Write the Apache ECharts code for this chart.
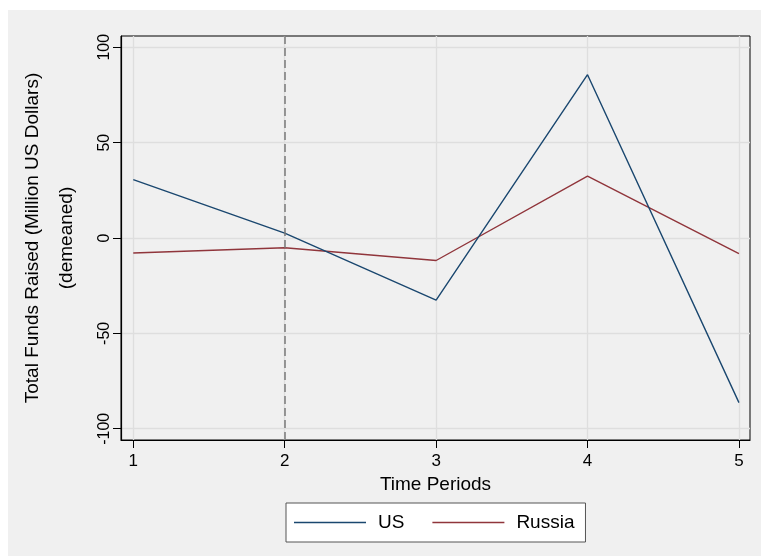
<!DOCTYPE html>
<html>
<head>
<meta charset="utf-8">
<script src="https://cdn.jsdelivr.net/npm/echarts@6/dist/echarts.min.js"></script>
<style>
  html, body { margin: 0; padding: 0; background: #ffffff; }
  #chart { position: absolute; left: 8px; top: 10px; width: 753px; height: 546px; }
</style>
</head>
<body>
<div id="chart"></div>
<script>
// Time periods and demeaned fundraising totals (million US dollars)
const periods = [1, 2, 3, 4, 5];
const usValues = [30.6, 2.6, -32.6, 85.6, -86.3];
const russiaValues = [-7.9, -5.1, -11.8, 32.4, -8.2];
const yTicks = [-100, -50, 0, 50, 100];
const treatmentPeriod = 2;

const FONT = '"Liberation Sans", Arial, Helvetica, sans-serif';

const chart = echarts.init(document.getElementById('chart'));

chart.setOption({
  backgroundColor: '#f0f0f0',
  animation: false,
  textStyle: { fontFamily: FONT, color: '#000' },
  grid: {
    left: 113, top: 26, width: 629, height: 404,
    show: true, borderColor: '#000', borderWidth: 1, backgroundColor: 'transparent'
  },
  legend: {
    left: 278, top: 493,
    backgroundColor: '#ffffff',
    borderColor: '#555', borderWidth: 1,
    padding: [10, 11, 10, 8],
    itemWidth: 72, itemHeight: 1.6, itemGap: 28,
    textStyle: { fontSize: 19, fontFamily: FONT, color: '#000', padding: [0, 0, 0, 7] },
    data: [
      { name: 'US', icon: 'rect' },
      { name: 'Russia', icon: 'rect' }
    ]
  },
  xAxis: {
    type: 'value',
    min: 0.919, max: 5.073,
    name: 'Time Periods',
    nameLocation: 'middle',
    nameGap: 32,
    nameTextStyle: { fontSize: 19, fontFamily: FONT, color: '#000' },
    axisLine: { show: true, onZero: false, lineStyle: { color: '#000', width: 1.2 } },
    axisTick: { show: true, length: 8, customValues: periods, lineStyle: { color: '#000', width: 1 } },
    axisLabel: { customValues: periods, fontSize: 17, margin: 13, color: '#000', fontFamily: FONT },
    splitLine: { show: true, lineStyle: { color: '#dedede', width: 1.3 } }
  },
  yAxis: {
    type: 'value',
    min: -105.9, max: 105.9,
    name: 'Total Funds Raised (Million US Dollars)\n(demeaned)',
    nameLocation: 'middle',
    nameRotate: 90,
    nameGap: 37,
    nameTextStyle: { fontSize: 19, fontFamily: FONT, color: '#000', lineHeight: 34, align: 'center' },
    axisLine: { show: true, onZero: false, lineStyle: { color: '#000', width: 1.2 } },
    axisTick: { show: true, length: 8, customValues: yTicks, lineStyle: { color: '#000', width: 1 } },
    axisLabel: { customValues: yTicks, rotate: 90, fontSize: 16, margin: 8, color: '#000', fontFamily: FONT },
    splitLine: { show: true, lineStyle: { color: '#dedede', width: 1.3 } }
  },
  series: [
    {
      name: 'US',
      type: 'line',
      data: periods.map((p, i) => [p, usValues[i]]),
      symbol: 'none',
      lineStyle: { color: '#1a476f', width: 1.4 },
      itemStyle: { color: '#1a476f' },
      markLine: {
        silent: true,
        symbol: 'none',
        label: { show: false },
        lineStyle: { color: '#7a7a7a', type: [8, 4], width: 1.5 },
        data: [{ xAxis: treatmentPeriod }]
      },
      z: 3
    },
    {
      name: 'Russia',
      type: 'line',
      data: periods.map((p, i) => [p, russiaValues[i]]),
      symbol: 'none',
      lineStyle: { color: '#90353b', width: 1.4 },
      itemStyle: { color: '#90353b' },
      z: 2
    }
  ]
});
</script>
</body>
</html>
